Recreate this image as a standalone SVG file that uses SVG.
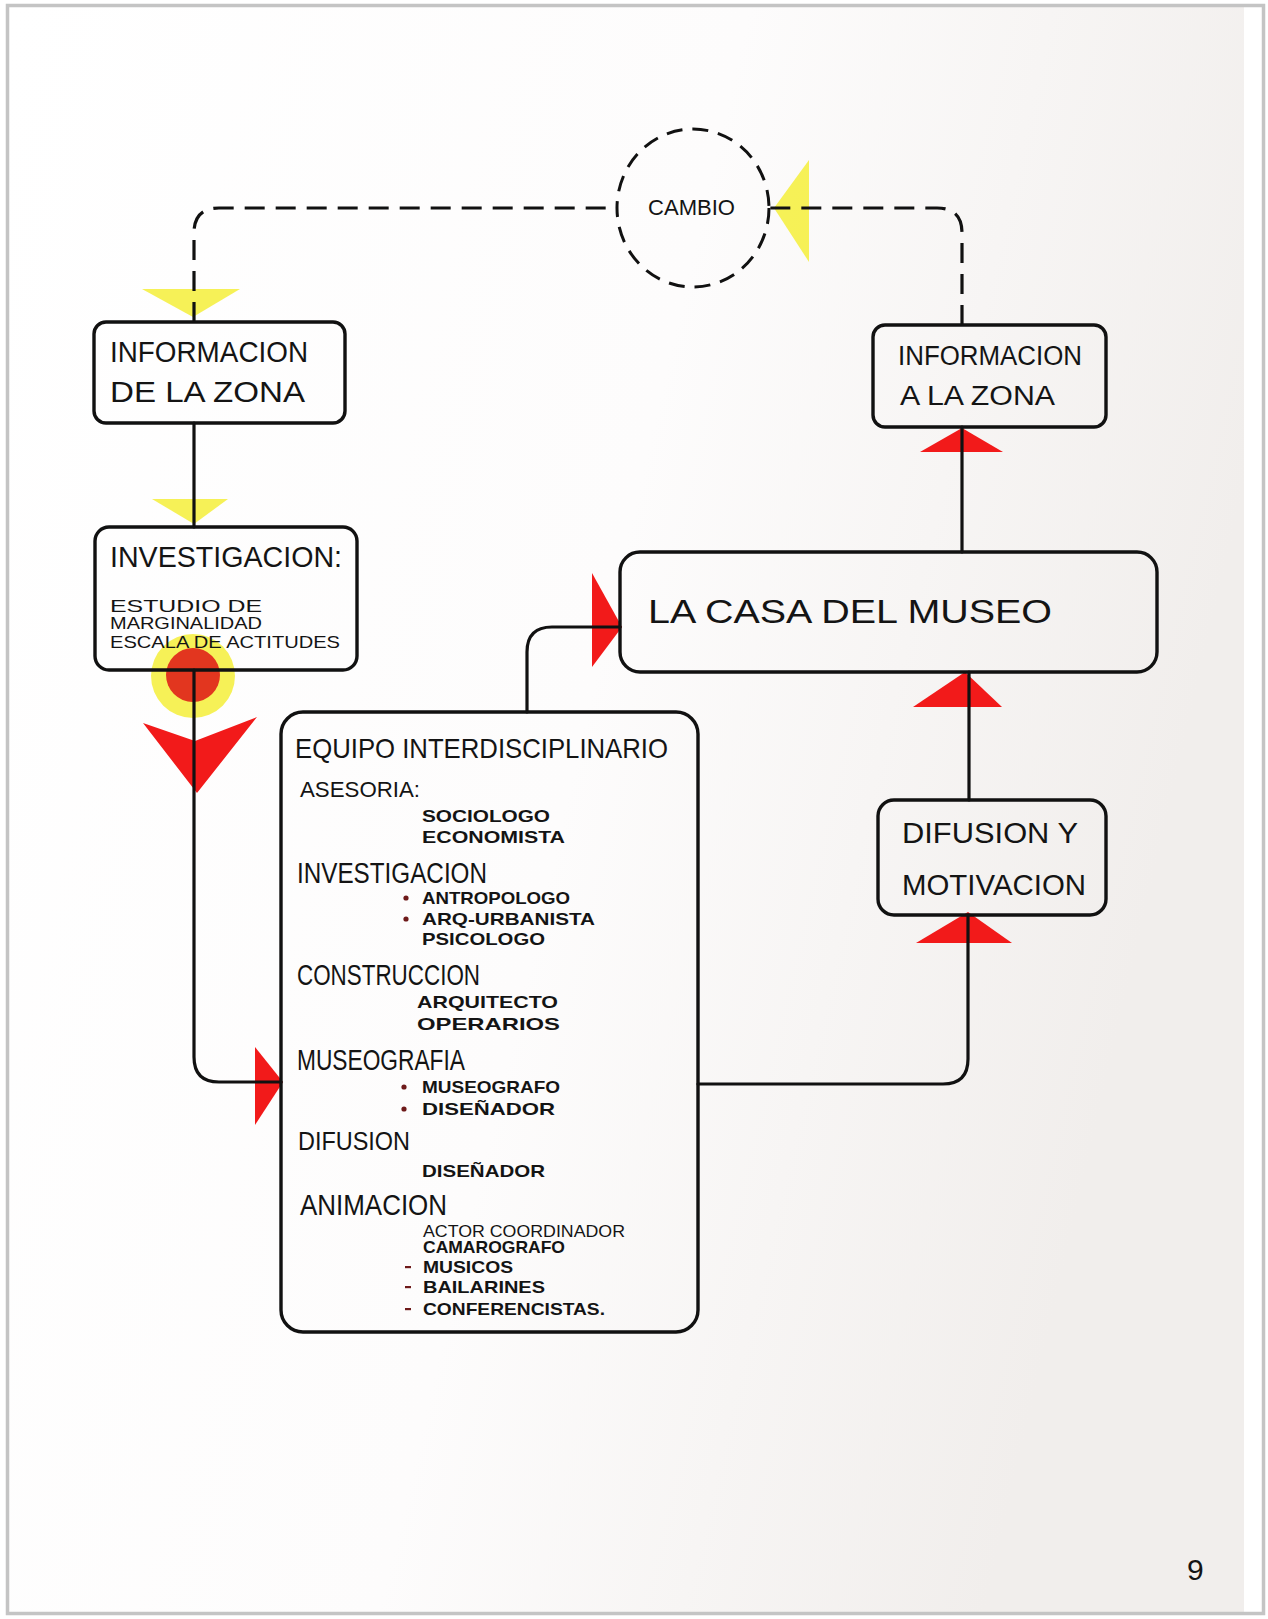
<svg xmlns="http://www.w3.org/2000/svg" width="1268" height="1619" viewBox="0 0 1268 1619">
<defs>
<linearGradient id="paper" x1="0" y1="0" x2="1" y2="0.3">
<stop offset="0" stop-color="#ffffff"/>
<stop offset="0.55" stop-color="#fdfcfc"/>
<stop offset="1" stop-color="#f1eeec"/>
</linearGradient>
<style>
.box{fill:none;stroke:#111;stroke-width:3.4;stroke-linejoin:round}
.line{fill:none;stroke:#111;stroke-width:3.2;stroke-linecap:round;stroke-linejoin:round}
.dash{fill:none;stroke:#111;stroke-width:3.2;stroke-dasharray:20 11}
.red{fill:#f21a1a}
.yel{fill:#f4ef3a;opacity:0.85}
.t{font-family:"Liberation Sans",Arial,sans-serif;fill:#141414}
.h{font-size:29px}
.s{font-size:17px;font-weight:bold}
.bul{fill:#6e1a1a}
</style>
</defs>
<rect x="0" y="0" width="1268" height="1619" fill="#ffffff"/>
<rect x="8" y="6" width="1236" height="1607" fill="url(#paper)"/>
<rect x="1244" y="6" width="19" height="1607" fill="#ffffff"/>
<rect x="7.5" y="5.5" width="1256" height="1608" fill="none" stroke="#c4c4c4" stroke-width="3.5"/>

<g id="annotations">
<polygon class="yel" points="142,289 240,289 193,317"/>
<polygon class="yel" points="152,499 228,499 194,524"/>
<polygon class="yel" points="809,160 809,262 774,208"/>
<circle cx="193" cy="676" r="42" fill="#f4ef3a" opacity="0.85"/>
<circle cx="193" cy="675" r="27" fill="#e2361f"/>
<polygon class="red" points="143,723 195,741 257,717 197,793"/>
<polygon class="red" points="255,1047 283,1082 255,1125"/>
<polygon class="red" points="592,573 622,627 592,667"/>
<polygon class="red" points="962,428 1003,452 920,452"/>
<polygon class="red" points="965,672 1002,707 913,707"/>
<polygon class="red" points="968,912 1012,943 916,943"/>
</g>

<g id="connectors">
<path class="dash" d="M194,322 V233 Q194,208 219,208 H617"/>
<path class="dash" d="M962,325 V233 Q962,208 937,208 H770"/>
<path class="line" d="M194,423 V527"/>
<path class="line" d="M194,670 V1057 Q194,1082 219,1082 H281"/>
<path class="line" d="M527,712 V652 Q527,627 552,627 H620"/>
<path class="line" d="M698,1084 H943 Q968,1084 968,1059 V915"/>
<path class="line" d="M969,800 V672"/>
<path class="line" d="M962,552 V427"/>
</g>

<g id="cambio">
<ellipse cx="693" cy="208" rx="76" ry="79" fill="none" stroke="#111" stroke-width="3" stroke-dasharray="16 10"/>
<text class="t" x="648" y="215" font-size="22" textLength="87" lengthAdjust="spacingAndGlyphs">CAMBIO</text>
</g>

<g id="info-de-la-zona">
<rect class="box" x="94" y="322" width="251" height="101" rx="12"/>
<text class="t h" x="110" y="362" textLength="198" lengthAdjust="spacingAndGlyphs">INFORMACION</text>
<text class="t h" x="110" y="402" textLength="195" lengthAdjust="spacingAndGlyphs">DE LA ZONA</text>
</g>

<g id="investigacion">
<rect class="box" x="95" y="527" width="262" height="143" rx="14"/>
<text class="t h" x="110" y="567" textLength="232" lengthAdjust="spacingAndGlyphs">INVESTIGACION:</text>
<text class="t" x="110" y="612" font-size="17" textLength="152" lengthAdjust="spacingAndGlyphs">ESTUDIO DE</text>
<text class="t" x="110" y="629" font-size="17" textLength="152" lengthAdjust="spacingAndGlyphs">MARGINALIDAD</text>
<text class="t" x="110" y="648" font-size="17" textLength="230" lengthAdjust="spacingAndGlyphs">ESCALA DE ACTITUDES</text>
</g>

<g id="info-a-la-zona">
<rect class="box" x="873" y="325" width="233" height="102" rx="12"/>
<text class="t" x="898" y="365" font-size="27" textLength="184" lengthAdjust="spacingAndGlyphs">INFORMACION</text>
<text class="t" x="900" y="405" font-size="27" textLength="155" lengthAdjust="spacingAndGlyphs">A LA ZONA</text>
</g>

<g id="casa-del-museo">
<rect class="box" x="620" y="552" width="537" height="120" rx="20"/>
<text class="t" x="648" y="623" font-size="34" textLength="404" lengthAdjust="spacingAndGlyphs">LA CASA DEL MUSEO</text>
</g>

<g id="difusion">
<rect class="box" x="878" y="800" width="228" height="115" rx="16"/>
<text class="t h" x="902" y="843" textLength="176" lengthAdjust="spacingAndGlyphs">DIFUSION Y</text>
<text class="t h" x="902" y="895" textLength="184" lengthAdjust="spacingAndGlyphs">MOTIVACION</text>
</g>

<g id="equipo">
<rect class="box" x="281" y="712" width="417" height="620" rx="22"/>
<text class="t" x="295" y="758" font-size="28" textLength="373" lengthAdjust="spacingAndGlyphs">EQUIPO INTERDISCIPLINARIO</text>
<text class="t" x="300" y="797" font-size="22" textLength="120" lengthAdjust="spacingAndGlyphs">ASESORIA:</text>
<text class="t s" x="422" y="822" textLength="128" lengthAdjust="spacingAndGlyphs">SOCIOLOGO</text>
<text class="t s" x="422" y="843" textLength="143" lengthAdjust="spacingAndGlyphs">ECONOMISTA</text>
<text class="t h" x="297" y="883" textLength="190" lengthAdjust="spacingAndGlyphs">INVESTIGACION</text>
<circle class="bul" cx="406" cy="898" r="2.6"/>
<text class="t s" x="422" y="904" textLength="148" lengthAdjust="spacingAndGlyphs">ANTROPOLOGO</text>
<circle class="bul" cx="406" cy="919" r="2.6"/>
<text class="t s" x="422" y="925" textLength="173" lengthAdjust="spacingAndGlyphs">ARQ-URBANISTA</text>
<text class="t s" x="422" y="945" textLength="123" lengthAdjust="spacingAndGlyphs">PSICOLOGO</text>
<text class="t h" x="297" y="985" textLength="183" lengthAdjust="spacingAndGlyphs">CONSTRUCCION</text>
<text class="t s" x="417" y="1008" textLength="141" lengthAdjust="spacingAndGlyphs">ARQUITECTO</text>
<text class="t s" x="417" y="1030" textLength="143" lengthAdjust="spacingAndGlyphs">OPERARIOS</text>
<text class="t h" x="297" y="1070" textLength="168" lengthAdjust="spacingAndGlyphs">MUSEOGRAFIA</text>
<circle class="bul" cx="404" cy="1087" r="2.6"/>
<text class="t s" x="422" y="1093" textLength="138" lengthAdjust="spacingAndGlyphs">MUSEOGRAFO</text>
<circle class="bul" cx="404" cy="1109" r="2.6"/>
<text class="t s" x="422" y="1115" textLength="133" lengthAdjust="spacingAndGlyphs">DISEÑADOR</text>
<text class="t" x="298" y="1150" font-size="25" textLength="112" lengthAdjust="spacingAndGlyphs">DIFUSION</text>
<text class="t s" x="422" y="1177" textLength="123" lengthAdjust="spacingAndGlyphs">DISEÑADOR</text>
<text class="t h" x="300" y="1215" textLength="147" lengthAdjust="spacingAndGlyphs">ANIMACION</text>
<text class="t" x="423" y="1237" font-size="16" textLength="202" lengthAdjust="spacingAndGlyphs">ACTOR COORDINADOR</text>
<text class="t s" x="423" y="1253" textLength="142" lengthAdjust="spacingAndGlyphs">CAMAROGRAFO</text>
<rect class="bul" x="405" y="1266" width="6" height="2.2"/>
<text class="t s" x="423" y="1273" textLength="90" lengthAdjust="spacingAndGlyphs">MUSICOS</text>
<rect class="bul" x="405" y="1286" width="6" height="2.2"/>
<text class="t s" x="423" y="1293" textLength="122" lengthAdjust="spacingAndGlyphs">BAILARINES</text>
<rect class="bul" x="405" y="1308" width="6" height="2.2"/>
<text class="t s" x="423" y="1315" textLength="182" lengthAdjust="spacingAndGlyphs">CONFERENCISTAS.</text>
</g>

<text class="t" x="1187" y="1580" font-size="30" fill="#222">9</text>
</svg>
